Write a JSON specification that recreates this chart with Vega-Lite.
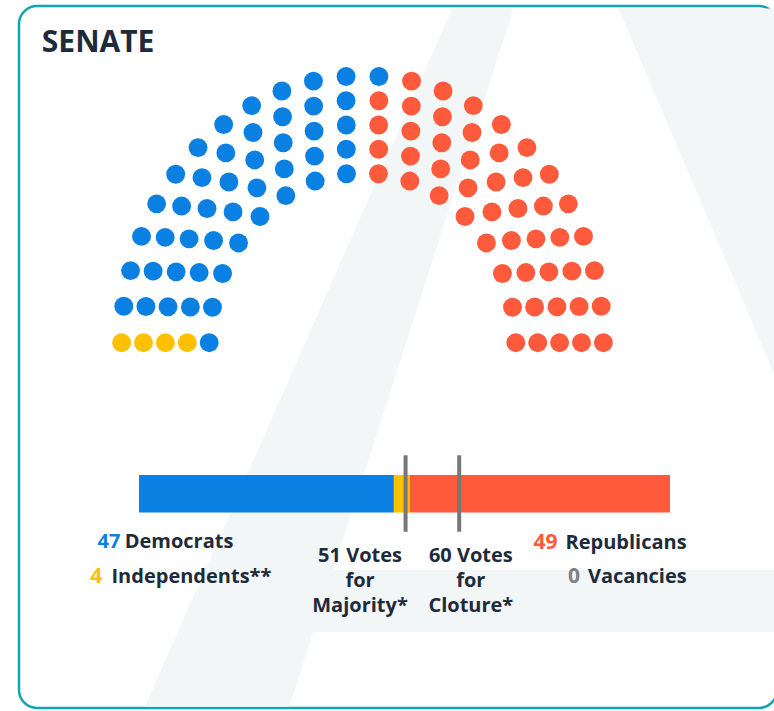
{
  "$schema": "https://vega.github.io/schema/vega-lite/v6.json",
  "width": 758,
  "height": 702,
  "autosize": "none",
  "padding": {"left": 19, "top": 6, "right": -3, "bottom": 3},
  "background": "white",
  "config": {
    "view": {"stroke": "#13A4B4", "strokeWidth": 2.5, "cornerRadius": 18, "fill": "white"},
    "text": {"font": "Open Sans", "fontWeight": 700, "fontSize": 20}
  },
  "datasets": {
    "watermark": [
      {"part": "left leg", "wy": 13.77, "xl": 4.1, "xr": 6.89},
      {"part": "left leg", "wy": -14.99, "xl": -9.93, "xr": -3.34},
      {"part": "crossbar", "wy": -9.37, "xl": -1.34, "xr": 22},
      {"part": "crossbar", "wy": -11.92, "xl": -2.25, "xr": 22},
      {"part": "right leg", "wy": 13.77, "xl": 11.69, "xr": 30},
      {"part": "right leg", "wy": -14.99, "xl": 25.27, "xr": 30}
    ],
    "seats": [
      {"party": "Democrat", "x": -7, "y": 0},
      {"party": "Democrat", "x": -6.85, "y": 1.46},
      {"party": "Democrat", "x": -6.39, "y": 2.85},
      {"party": "Democrat", "x": -5.66, "y": 4.11},
      {"party": "Democrat", "x": -4.68, "y": 5.2},
      {"party": "Democrat", "x": -3.5, "y": 6.06},
      {"party": "Democrat", "x": -2.16, "y": 6.66},
      {"party": "Democrat", "x": -0.73, "y": 6.96},
      {"party": "Republican", "x": 0.73, "y": 6.96},
      {"party": "Republican", "x": 2.16, "y": 6.66},
      {"party": "Republican", "x": 3.5, "y": 6.06},
      {"party": "Republican", "x": 4.68, "y": 5.2},
      {"party": "Republican", "x": 5.66, "y": 4.11},
      {"party": "Republican", "x": 6.39, "y": 2.85},
      {"party": "Republican", "x": 6.85, "y": 1.46},
      {"party": "Republican", "x": 7, "y": 0},
      {"party": "Independent", "x": -8, "y": 0},
      {"party": "Democrat", "x": -7.86, "y": 1.47},
      {"party": "Democrat", "x": -7.46, "y": 2.89},
      {"party": "Democrat", "x": -6.8, "y": 4.21},
      {"party": "Democrat", "x": -5.91, "y": 5.39},
      {"party": "Democrat", "x": -4.82, "y": 6.38},
      {"party": "Democrat", "x": -3.57, "y": 7.16},
      {"party": "Democrat", "x": -2.19, "y": 7.69},
      {"party": "Democrat", "x": -0.74, "y": 7.97},
      {"party": "Republican", "x": 0.74, "y": 7.97},
      {"party": "Republican", "x": 2.19, "y": 7.69},
      {"party": "Republican", "x": 3.57, "y": 7.16},
      {"party": "Republican", "x": 4.82, "y": 6.38},
      {"party": "Republican", "x": 5.91, "y": 5.39},
      {"party": "Republican", "x": 6.8, "y": 4.21},
      {"party": "Republican", "x": 7.46, "y": 2.89},
      {"party": "Republican", "x": 7.86, "y": 1.47},
      {"party": "Republican", "x": 8, "y": 0},
      {"party": "Independent", "x": -9, "y": 0},
      {"party": "Democrat", "x": -8.88, "y": 1.48},
      {"party": "Democrat", "x": -8.51, "y": 2.92},
      {"party": "Democrat", "x": -7.92, "y": 4.28},
      {"party": "Democrat", "x": -7.1, "y": 5.53},
      {"party": "Democrat", "x": -6.1, "y": 6.62},
      {"party": "Democrat", "x": -4.92, "y": 7.53},
      {"party": "Democrat", "x": -3.62, "y": 8.24},
      {"party": "Democrat", "x": -2.21, "y": 8.72},
      {"party": "Democrat", "x": -0.74, "y": 8.97},
      {"party": "Republican", "x": 0.74, "y": 8.97},
      {"party": "Republican", "x": 2.21, "y": 8.72},
      {"party": "Republican", "x": 3.62, "y": 8.24},
      {"party": "Republican", "x": 4.92, "y": 7.53},
      {"party": "Republican", "x": 6.1, "y": 6.62},
      {"party": "Republican", "x": 7.1, "y": 5.53},
      {"party": "Republican", "x": 7.92, "y": 4.28},
      {"party": "Republican", "x": 8.51, "y": 2.92},
      {"party": "Republican", "x": 8.88, "y": 1.48},
      {"party": "Republican", "x": 9, "y": 0},
      {"party": "Independent", "x": -10, "y": 0},
      {"party": "Democrat", "x": -9.89, "y": 1.49},
      {"party": "Democrat", "x": -9.56, "y": 2.95},
      {"party": "Democrat", "x": -9.01, "y": 4.34},
      {"party": "Democrat", "x": -8.26, "y": 5.63},
      {"party": "Democrat", "x": -7.33, "y": 6.8},
      {"party": "Democrat", "x": -6.24, "y": 7.82},
      {"party": "Democrat", "x": -5.0, "y": 8.66},
      {"party": "Democrat", "x": -3.65, "y": 9.31},
      {"party": "Democrat", "x": -2.23, "y": 9.75},
      {"party": "Democrat", "x": -0.75, "y": 9.97},
      {"party": "Republican", "x": 0.75, "y": 9.97},
      {"party": "Republican", "x": 2.23, "y": 9.75},
      {"party": "Republican", "x": 3.65, "y": 9.31},
      {"party": "Republican", "x": 5.0, "y": 8.66},
      {"party": "Republican", "x": 6.24, "y": 7.82},
      {"party": "Republican", "x": 7.33, "y": 6.8},
      {"party": "Republican", "x": 8.26, "y": 5.63},
      {"party": "Republican", "x": 9.01, "y": 4.34},
      {"party": "Republican", "x": 9.56, "y": 2.95},
      {"party": "Republican", "x": 9.89, "y": 1.49},
      {"party": "Republican", "x": 10, "y": 0},
      {"party": "Independent", "x": -11, "y": 0},
      {"party": "Democrat", "x": -10.9, "y": 1.5},
      {"party": "Democrat", "x": -10.59, "y": 2.97},
      {"party": "Democrat", "x": -10.09, "y": 4.38},
      {"party": "Democrat", "x": -9.4, "y": 5.72},
      {"party": "Democrat", "x": -8.53, "y": 6.94},
      {"party": "Democrat", "x": -7.51, "y": 8.04},
      {"party": "Democrat", "x": -6.34, "y": 8.99},
      {"party": "Democrat", "x": -5.06, "y": 9.77},
      {"party": "Democrat", "x": -3.68, "y": 10.37},
      {"party": "Democrat", "x": -2.24, "y": 10.78},
      {"party": "Democrat", "x": -0.75, "y": 10.97},
      {"party": "Democrat", "x": 0.75, "y": 10.97},
      {"party": "Republican", "x": 2.24, "y": 10.78},
      {"party": "Republican", "x": 3.68, "y": 10.37},
      {"party": "Republican", "x": 5.06, "y": 9.77},
      {"party": "Republican", "x": 6.34, "y": 8.99},
      {"party": "Republican", "x": 7.51, "y": 8.04},
      {"party": "Republican", "x": 8.53, "y": 6.94},
      {"party": "Republican", "x": 9.4, "y": 5.72},
      {"party": "Republican", "x": 10.09, "y": 4.38},
      {"party": "Republican", "x": 10.59, "y": 2.97},
      {"party": "Republican", "x": 10.9, "y": 1.5},
      {"party": "Republican", "x": 11, "y": 0}
    ],
    "bar": [
      {"party": "Democrat", "start": 0, "end": 48},
      {"party": "Independent", "start": 48, "end": 51},
      {"party": "Republican", "start": 51, "end": 100}
    ],
    "thresholds": [
      {"votes": 50.2, "name": "Majority"},
      {"votes": 60.3, "name": "Cloture"}
    ],
    "parties": [
      {"party": "Democrat", "seats": 47, "name": "Democrats"},
      {"party": "Independent", "seats": 4, "name": "Independents**"},
      {"party": "Republican", "seats": 49, "name": "Republicans"},
      {"party": "Vacant", "seats": 0, "name": "Vacancies"}
    ]
  },
  "layer": [
    {
      "layer": [
        {
          "data": {"name": "watermark"},
          "mark": {"type": "area", "orient": "horizontal", "color": "#F3F6F7", "opacity": 1, "clip": true},
          "encoding": {
            "y": {"field": "wy", "type": "quantitative", "scale": {"domain": [-15.052, 13.873], "nice": false, "zero": false}, "axis": null},
            "x": {"field": "xl", "type": "quantitative", "scale": {"domain": [-15.685, 18.927], "nice": false, "zero": false}, "axis": null},
            "x2": {"field": "xr"},
            "detail": {"field": "part", "type": "nominal"}
          }
        },
        {
          "data": {"name": "seats"},
          "mark": {"type": "circle", "size": 356, "opacity": 1},
          "encoding": {
            "x": {"field": "x", "type": "quantitative", "scale": {"domain": [-15.685, 18.927], "nice": false, "zero": false}, "axis": null},
            "y": {"field": "y", "type": "quantitative", "scale": {"domain": [-15.052, 13.873], "nice": false, "zero": false}, "axis": null},
            "color": {"field": "party", "type": "nominal", "scale": {"domain": ["Democrat", "Independent", "Republican", "Vacant"], "range": ["#0A80E2", "#FFC000", "#FF5A3C", "#808080"]}, "legend": null}
          }
        }
      ]
    },
    {
      "layer": [
        {
          "data": {"name": "bar"},
          "mark": {"type": "rect"},
          "encoding": {
            "x": {"field": "start", "type": "quantitative", "scale": {"domain": [-22.599, 120.15], "nice": false, "zero": false}, "axis": null},
            "x2": {"field": "end"},
            "y": {"datum": -5.45, "type": "quantitative", "scale": {"domain": [-15.052, 13.873], "nice": false, "zero": false}, "axis": null},
            "y2": {"datum": -7.0},
            "color": {"field": "party", "type": "nominal", "scale": {"domain": ["Democrat", "Independent", "Republican", "Vacant"], "range": ["#0A80E2", "#FFC000", "#FF5A3C", "#808080"]}, "legend": null}
          }
        },
        {
          "data": {"name": "thresholds"},
          "mark": {"type": "rule", "color": "#777777", "strokeWidth": 4},
          "encoding": {
            "x": {"field": "votes", "type": "quantitative"},
            "y": {"datum": -4.64, "type": "quantitative"},
            "y2": {"datum": -7.79}
          }
        },
        {
          "data": {"values": [{"label": "SENATE"}]},
          "mark": {"type": "text", "align": "left", "baseline": "alphabetic", "fontSize": 30, "color": "#1E2B3A"},
          "encoding": {"x": {"datum": -18.3, "type": "quantitative"}, "y": {"datum": 11.99, "type": "quantitative"}, "text": {"field": "label"}}
        },
        {
          "data": {"name": "parties"},
          "transform": [{"filter": "datum.party === 'Democrat'"}],
          "mark": {"type": "text", "align": "left", "baseline": "alphabetic", "fontSize": 20},
          "encoding": {"x": {"datum": -7.8, "type": "quantitative"}, "y": {"datum": -8.471, "type": "quantitative"}, "text": {"field": "seats"}, "color": {"field": "party", "type": "nominal", "legend": null}}
        },
        {
          "data": {"name": "parties"},
          "transform": [{"filter": "datum.party === 'Democrat'"}],
          "mark": {"type": "text", "align": "left", "baseline": "alphabetic", "color": "#1E2B3A"},
          "encoding": {"x": {"datum": -2.7, "type": "quantitative"}, "y": {"datum": -8.471, "type": "quantitative"}, "text": {"field": "name"}}
        },
        {
          "data": {"name": "parties"},
          "transform": [{"filter": "datum.party === 'Independent'"}],
          "mark": {"type": "text", "align": "left", "baseline": "alphabetic", "fontSize": 21},
          "encoding": {"x": {"datum": -9.2, "type": "quantitative"}, "y": {"datum": -9.913, "type": "quantitative"}, "text": {"field": "seats"}, "color": {"field": "party", "type": "nominal", "legend": null}}
        },
        {
          "data": {"name": "parties"},
          "transform": [{"filter": "datum.party === 'Independent'"}],
          "mark": {"type": "text", "align": "left", "baseline": "alphabetic", "color": "#1E2B3A"},
          "encoding": {"x": {"datum": -5.18, "type": "quantitative"}, "y": {"datum": -9.913, "type": "quantitative"}, "text": {"field": "name"}}
        },
        {
          "data": {"name": "parties"},
          "transform": [{"filter": "datum.party === 'Republican'"}],
          "mark": {"type": "text", "align": "right", "baseline": "alphabetic", "fontSize": 21},
          "encoding": {"x": {"datum": 78.81, "type": "quantitative"}, "y": {"datum": -8.513, "type": "quantitative"}, "text": {"field": "seats"}, "color": {"field": "party", "type": "nominal", "legend": null}}
        },
        {
          "data": {"name": "parties"},
          "transform": [{"filter": "datum.party === 'Republican'"}],
          "mark": {"type": "text", "align": "right", "baseline": "alphabetic", "color": "#1E2B3A"},
          "encoding": {"x": {"datum": 103.14, "type": "quantitative"}, "y": {"datum": -8.513, "type": "quantitative"}, "text": {"field": "name"}}
        },
        {
          "data": {"name": "parties"},
          "transform": [{"filter": "datum.party === 'Vacant'"}],
          "mark": {"type": "text", "align": "right", "baseline": "alphabetic", "fontSize": 21},
          "encoding": {"x": {"datum": 83.07, "type": "quantitative"}, "y": {"datum": -9.913, "type": "quantitative"}, "text": {"field": "seats"}, "color": {"field": "party", "type": "nominal", "legend": null}}
        },
        {
          "data": {"name": "parties"},
          "transform": [{"filter": "datum.party === 'Vacant'"}],
          "mark": {"type": "text", "align": "right", "baseline": "alphabetic", "color": "#1E2B3A"},
          "encoding": {"x": {"datum": 103.14, "type": "quantitative"}, "y": {"datum": -9.913, "type": "quantitative"}, "text": {"field": "name"}}
        },
        {
          "data": {"values": [{"label": ["51 Votes", "for", "Majority*"]}]},
          "mark": {"type": "text", "align": "center", "baseline": "alphabetic", "lineHeight": 25, "color": "#1E2B3A"},
          "encoding": {"x": {"datum": 41.62, "type": "quantitative"}, "y": {"datum": -9.048, "type": "quantitative"}, "text": {"field": "label"}}
        },
        {
          "data": {"values": [{"label": ["60 Votes", "for", "Cloture*"]}]},
          "mark": {"type": "text", "align": "center", "baseline": "alphabetic", "lineHeight": 25, "color": "#1E2B3A"},
          "encoding": {"x": {"datum": 62.49, "type": "quantitative"}, "y": {"datum": -9.048, "type": "quantitative"}, "text": {"field": "label"}}
        }
      ]
    }
  ],
  "resolve": {"scale": {"x": "independent"}}
}
